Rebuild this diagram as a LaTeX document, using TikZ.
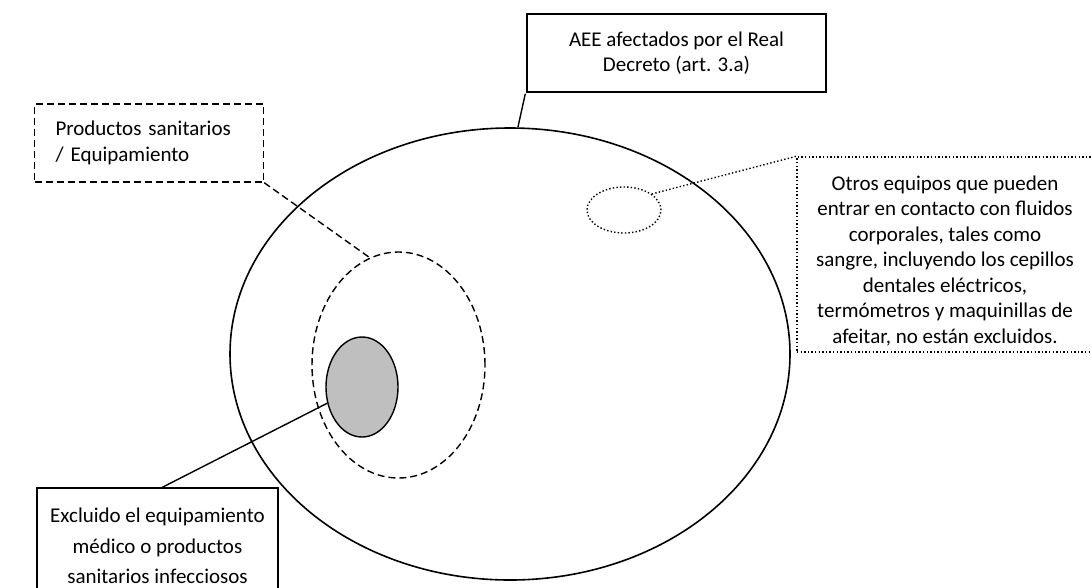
\documentclass[tikz,border=0pt]{standalone}
\usepackage{fontspec}
\setmainfont{Carlito}
\usetikzlibrary{shapes.geometric}
\definecolor{shade}{HTML}{BFBFBF}
\begin{document}
\begin{tikzpicture}[x=1pt,y=-1pt,
  txt/.style={font=\fontsize{21}{25.5}\selectfont},
  solidbox/.style={draw, line width=1.4pt, rectangle, inner sep=0pt, align=center, txt},
  dashbox/.style={draw, line width=1.4pt, rectangle, dash pattern=on 7pt off 4pt, inner sep=0pt, txt},
  dotbox/.style={draw, line width=1.4pt, rectangle, dash pattern=on 1.4pt off 2.2pt, inner sep=0pt},
  plaintext/.style={inner sep=0pt, align=center, txt},
  oval/.style={ellipse, inner sep=0pt},
  solidline/.style={line width=1.4pt},
  dashline/.style={line width=1.4pt, dash pattern=on 7pt off 4pt},
  dotline/.style={line width=1.4pt, dash pattern=on 1.4pt off 2.2pt},
]
\useasboundingbox (0,0) rectangle (1091,587);

% big ellipse
\node[oval, draw, line width=1.6pt, minimum width=560pt, minimum height=452pt] (big) at (510,354) {};
% dashed ellipse
\node[oval, draw, dashline, minimum width=173pt, minimum height=226pt] (dash) at (398.5,365) {};
% grey ellipse
\node[oval, draw, fill=shade, line width=1.4pt, minimum width=72pt, minimum height=100pt] (grey) at (362,387) {};
% small dotted ellipse
\node[oval, draw, dotline, minimum width=74pt, minimum height=46pt] (small) at (624,210) {};

% boxes
\node[solidbox, minimum width=299pt, minimum height=78pt] (aee) at (676.5,53)
  {AEE afectados por el Real\\Decreto (art. 3.a)};
\node[dashbox, minimum height=78pt, text width=187pt, inner xsep=21pt, align=left] (prod) at (149,143)
  {Productos sanitarios\\/ Equipamiento};
\node[solidbox, minimum width=241pt, minimum height=116pt, font=\fontsize{21}{30.5}\selectfont] (excl) at (157.5,546)
  {Excluido el equipamiento\\m\'edico o productos\\sanitarios infecciosos};
\node[dotbox, minimum width=296pt, minimum height=195pt] (otros) at (945,254.5) {};
\node[plaintext] (otrostxt) at (945,261)
  {Otros equipos que pueden\\entrar en contacto con fluidos\\corporales, tales como\\sangre, incluyendo los cepillos\\dentales el\'ectricos,\\term\'ometros y maquinillas de\\afeitar, no est\'an excluidos.};

% connectors
\draw[solidline] ([xshift=-1pt,yshift=-1pt]aee.south west) -- (big.88.5);
\draw[dashline] (prod.south east) -- (dash.105);
\draw[solidline] (grey.205) -- ([xshift=126pt]excl.north west);
\draw[dotline] (small.30) -- (otros.north west);
\end{tikzpicture}
\end{document}
